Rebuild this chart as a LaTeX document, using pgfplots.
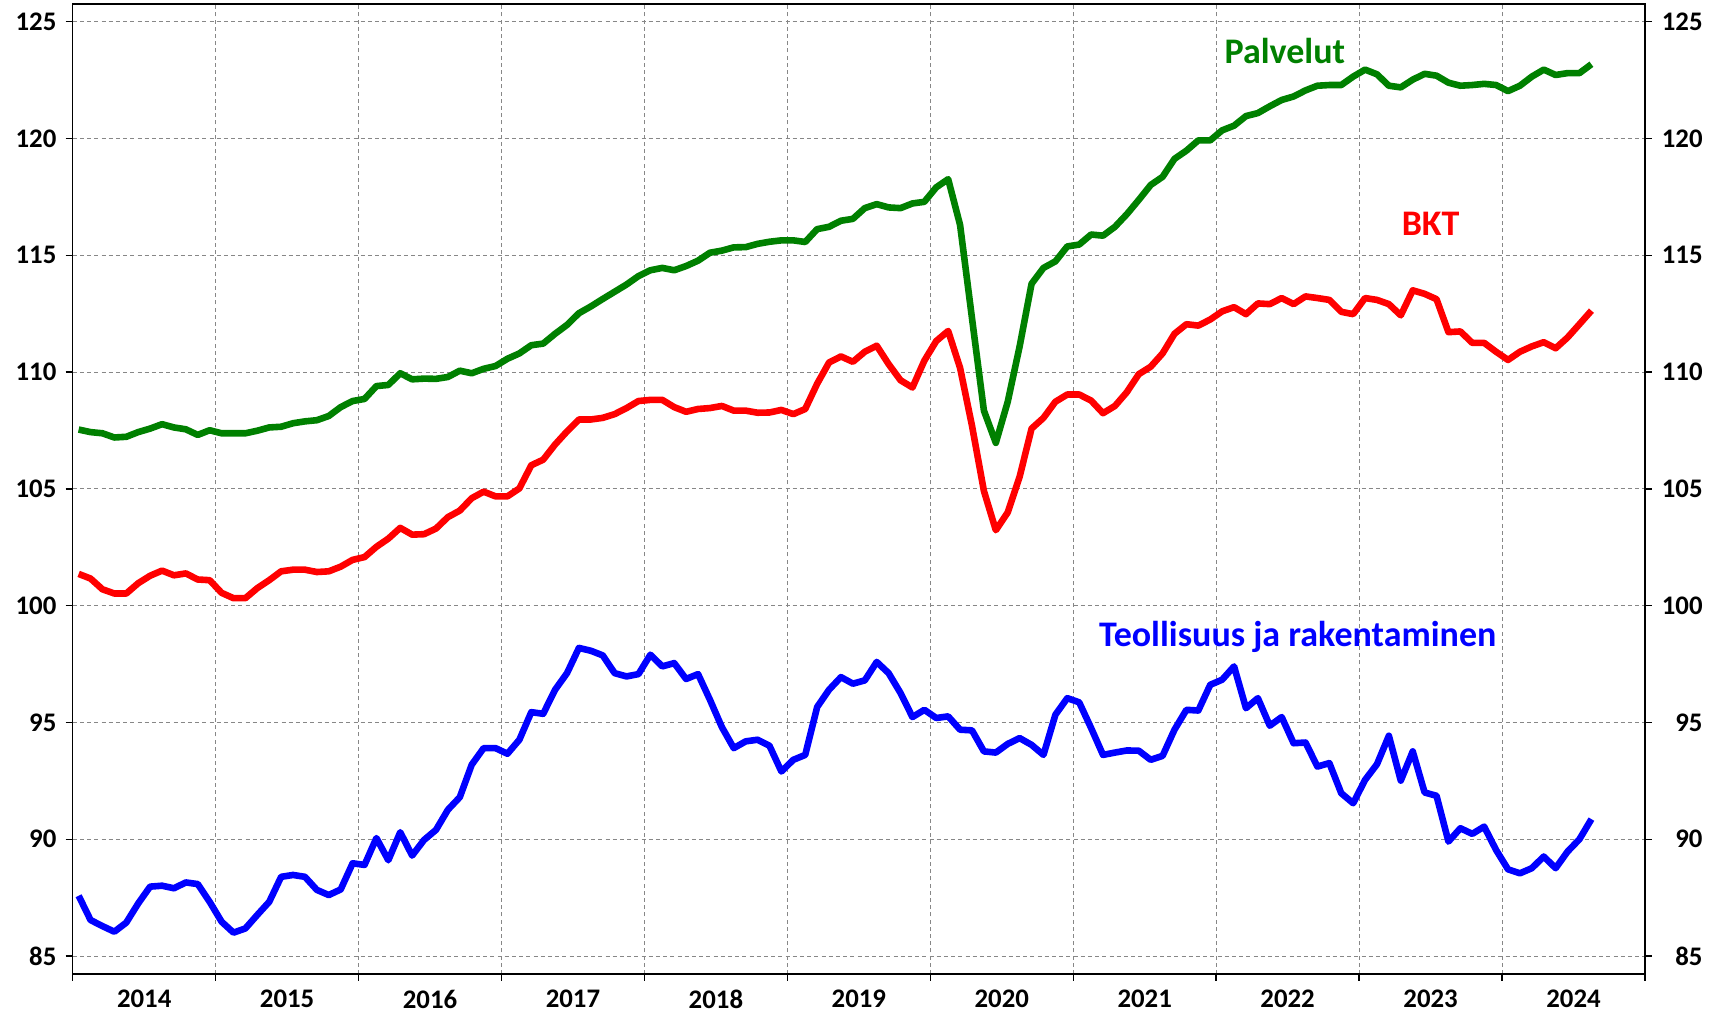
\documentclass[border=0pt]{standalone}
\usepackage{fontspec}
\setmainfont{Carlito}
\usepackage{pgfplots}
\usepackage{pgfplotstable}
\pgfplotsset{compat=1.18}
\definecolor{cgreen}{RGB}{0,128,0}
\definecolor{cred}{RGB}{255,0,0}
\definecolor{cblue}{RGB}{0,0,255}
\definecolor{cgrid}{RGB}{135,135,135}

\pgfplotstableread{
i P B T
0 107.54 101.36 87.58
1 107.43 101.16 86.54
2 107.38 100.70 86.28
3 107.20 100.52 86.04
4 107.23 100.52 86.43
5 107.43 100.96 87.25
6 107.58 101.28 87.97
7 107.77 101.50 88.01
8 107.63 101.30 87.90
9 107.55 101.38 88.15
10 107.31 101.12 88.08
11 107.51 101.09 87.32
12 107.38 100.55 86.47
13 107.38 100.32 86.00
14 107.38 100.32 86.18
15 107.49 100.75 86.76
16 107.63 101.09 87.32
17 107.66 101.47 88.39
18 107.81 101.54 88.47
19 107.89 101.54 88.39
20 107.94 101.44 87.83
21 108.12 101.47 87.61
22 108.50 101.67 87.85
23 108.76 101.96 88.97
24 108.85 102.08 88.90
25 109.40 102.52 90.05
26 109.45 102.87 89.10
27 109.95 103.33 90.30
28 109.69 103.04 89.30
29 109.72 103.06 89.97
30 109.71 103.30 90.40
31 109.79 103.79 91.26
32 110.06 104.07 91.80
33 109.95 104.60 93.19
34 110.14 104.88 93.90
35 110.26 104.68 93.90
36 110.57 104.68 93.66
37 110.80 105.02 94.26
38 111.15 106.01 95.44
39 111.22 106.25 95.37
40 111.64 106.90 96.40
41 112.02 107.46 97.11
42 112.52 107.97 98.19
43 112.81 107.97 98.07
44 113.13 108.04 97.87
45 113.44 108.20 97.11
46 113.75 108.46 96.97
47 114.11 108.76 97.07
48 114.36 108.81 97.90
49 114.46 108.81 97.40
50 114.36 108.50 97.54
51 114.54 108.30 96.86
52 114.77 108.42 97.07
53 115.11 108.46 95.97
54 115.20 108.55 94.80
55 115.34 108.35 93.90
56 115.35 108.35 94.19
57 115.49 108.26 94.26
58 115.58 108.27 94.00
59 115.64 108.38 92.90
60 115.64 108.20 93.40
61 115.57 108.42 93.61
62 116.12 109.50 95.66
63 116.22 110.41 96.40
64 116.48 110.67 96.94
65 116.56 110.44 96.66
66 117.02 110.87 96.80
67 117.19 111.13 97.59
68 117.05 110.34 97.11
69 117.02 109.65 96.26
70 117.22 109.34 95.23
71 117.29 110.49 95.54
72 117.91 111.33 95.19
73 118.26 111.76 95.26
74 116.30 110.18 94.69
75 112.30 107.70 94.66
76 108.35 104.91 93.76
77 106.97 103.23 93.71
78 108.73 103.99 94.08
79 111.10 105.52 94.33
80 113.78 107.58 94.04
81 114.46 108.04 93.61
82 114.74 108.73 95.33
83 115.38 109.04 96.04
84 115.46 109.04 95.86
85 115.89 108.78 94.76
86 115.84 108.24 93.61
87 116.22 108.55 93.71
88 116.76 109.14 93.80
89 117.37 109.91 93.79
90 118.01 110.23 93.40
91 118.36 110.80 93.57
92 119.13 111.64 94.69
93 119.48 112.05 95.54
94 119.92 111.99 95.51
95 119.92 112.25 96.61
96 120.35 112.60 96.83
97 120.55 112.78 97.40
98 120.96 112.48 95.61
99 121.09 112.94 96.04
100 121.38 112.91 94.86
101 121.65 113.17 95.23
102 121.80 112.91 94.11
103 122.06 113.24 94.14
104 122.26 113.17 93.11
105 122.29 113.09 93.26
106 122.29 112.58 91.97
107 122.65 112.48 91.54
108 122.95 113.17 92.54
109 122.75 113.09 93.21
110 122.26 112.91 94.43
111 122.19 112.43 92.51
112 122.52 113.50 93.76
113 122.77 113.35 92.00
114 122.69 113.12 91.86
115 122.39 111.71 89.90
116 122.26 111.74 90.47
117 122.29 111.25 90.23
118 122.34 111.25 90.54
119 122.29 110.87 89.54
120 122.03 110.52 88.71
121 122.26 110.87 88.54
122 122.65 111.10 88.76
123 122.95 111.28 89.26
124 122.72 111.02 88.76
125 122.80 111.48 89.47
126 122.80 112.05 90.00
127 123.18 112.63 90.86
}\datatable

\begin{document}
\begin{tikzpicture}
\pgfplotsset{
  common/.style={
    scale only axis,
    width=786.15pt, height=485pt,
    xmin=2014, xmax=2025,
    ymin=84.23, ymax=125.76,
    ytick={85,90,...,125},
    tick align=outside,
    major tick length=3.5pt,
    minor tick length=3.5pt,
    /pgf/number format/assume math mode=true,
    tick label style={font=\fontsize{13.4}{15}\selectfont\bfseries, inner sep=0pt},
    axis line style={line width=0.7pt},
    every tick/.style={black, line width=0.7pt},
  },
}
\begin{axis}[
  common,
  xtick={2014.5,2015.5,...,2024.5},
  xticklabels={2014,2015,2016,2017,2018,2019,2020,2021,2022,2023,2024},
  minor xtick={2014,2015,...,2025},
  xtick pos=bottom,
  ytick pos=left,
  major x tick style={draw=none},
  xminorgrids=true,
  ymajorgrids=true,
  grid style={cgrid, line width=0.5pt, dash pattern=on 2pt off 1.6pt},
  minor grid style={cgrid, line width=0.5pt, dash pattern=on 2pt off 1.6pt},
  yticklabel style={anchor=east, xshift=-4.5pt},
  xticklabel style={anchor=north, yshift=-4.5pt},
  every axis plot/.append style={line width=3.3pt, line join=round, no markers},
]
\addplot[cgreen] table[x expr=2014+(\thisrow{i}+0.5)/12, y=P] {\datatable};
\addplot[cred] table[x expr=2014+(\thisrow{i}+0.5)/12, y=B] {\datatable};
\addplot[cblue] table[x expr=2014+(\thisrow{i}+0.5)/12, y=T] {\datatable};
\node[anchor=base, text=cgreen, font=\fontsize{18}{21}\selectfont\bfseries] at (axis cs:2022.48,123.23) {Palvelut};
\node[anchor=base, text=cred, font=\fontsize{18}{21}\selectfont\bfseries] at (axis cs:2023.50,115.84) {BKT};
\node[anchor=base, text=cblue, font=\fontsize{18}{21}\selectfont\bfseries] at (axis cs:2022.57,98.27) {Teollisuus ja rakentaminen};
\end{axis}
\begin{axis}[
  common,
  axis x line=none,
  axis y line*=right,
  yticklabel style={anchor=east, xshift=25.5pt},
]
\addplot[draw=none] coordinates {(2014,100)};
\end{axis}
\pgfresetboundingbox
\path[use as bounding box] (-36.35pt,-20.5pt) rectangle (819.15pt,487pt);
\end{tikzpicture}
\end{document}
